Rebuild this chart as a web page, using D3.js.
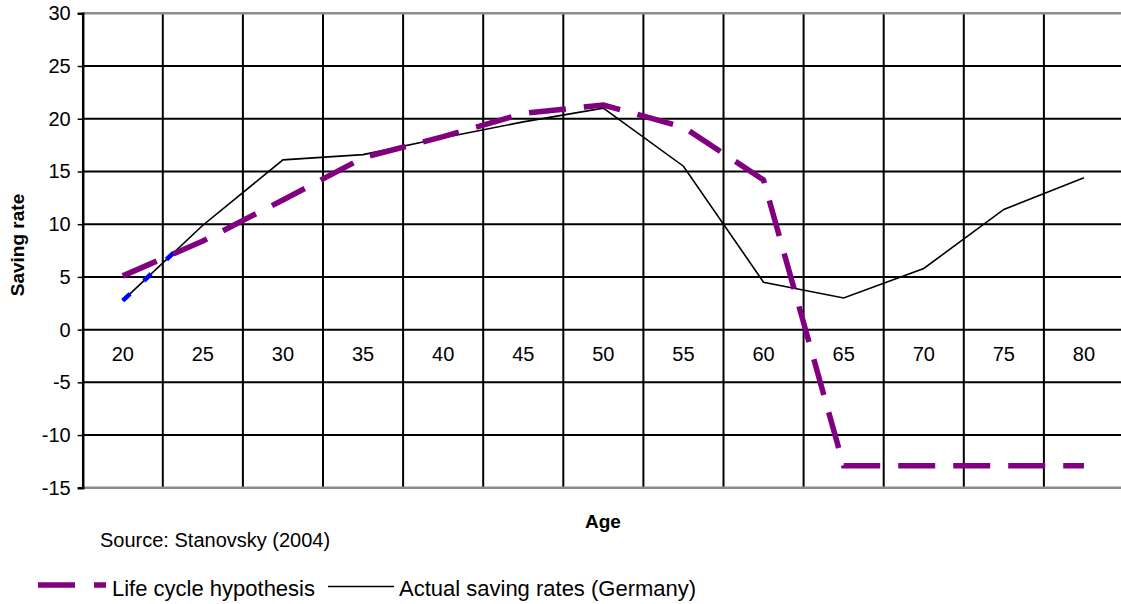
<!DOCTYPE html>
<html>
<head>
<meta charset="utf-8">
<script src="https://cdn.jsdelivr.net/npm/d3@7"></script>
<style>
  html, body { margin: 0; padding: 0; background: #fff; }
  svg { display: block; font-family: "Liberation Sans", Arial, sans-serif; }
</style>
</head>
<body>
<svg id="chart" width="1121" height="604"></svg>
<script>
// ---- data ----
const ages = ["20","25","30","35","40","45","50","55","60","65","70","75","80"];
const lifeCycle = [5.1, 8.4, 12.3, 16.3, 18.3, 20.5, 21.3, 19.2, 14.2, -12.9, -12.9, -12.9, -12.9];
const actualGermany = [2.75, 9.9, 16.1, 16.6, 18.2, 19.7, 21.0, 15.5, 4.5, 3.0, 5.8, 11.4, 14.4];
const yTickValues = [-15, -10, -5, 0, 5, 10, 15, 20, 25, 30];
const seriesNames = ["Life cycle hypothesis", "Actual saving rates (Germany)"];

(function () {
// ---- layout ----
const W = 1121;
const plotLeft = 82.7, plotTop = 13.3, plotBottom = 487.8;
const band = 80.1;
const svg = d3.select("#chart");

const x = d3.scaleBand().domain(ages).range([plotLeft, plotLeft + band * ages.length]).paddingInner(0).paddingOuter(0);
const y = d3.scaleLinear().domain([-15, 30]).range([plotBottom, plotTop]);
const xc = d => x(d) + x.bandwidth() / 2;

// horizontal gridlines (black) excluding top/bottom borders
const g = svg.append("g");
g.selectAll("line.hg").data(yTickValues.filter(v => v !== 30 && v !== -15)).enter()
  .append("line").attr("class", "hg")
  .attr("x1", plotLeft).attr("x2", W)
  .attr("y1", d => y(d)).attr("y2", d => y(d))
  .attr("stroke", "#000").attr("stroke-width", 2);

// vertical gridlines at category boundaries
g.selectAll("line.vg").data(ages.slice(1)).enter()
  .append("line").attr("class", "vg")
  .attr("x1", d => x(d)).attr("x2", d => x(d))
  .attr("y1", plotTop).attr("y2", plotBottom)
  .attr("stroke", "#000").attr("stroke-width", 2);

// top & bottom borders (grey)
g.selectAll("line.border").data([30, -15]).enter()
  .append("line").attr("class", "border")
  .attr("x1", plotLeft).attr("x2", W)
  .attr("y1", d => y(d)).attr("y2", d => y(d))
  .attr("stroke", "#8c8c8c").attr("stroke-width", 2.6);

// left y axis using d3 axis
const yAxis = d3.axisLeft(y).tickValues(yTickValues).tickSize(5).tickPadding(7).tickFormat(d3.format("d"));
const ya = svg.append("g").attr("transform", `translate(${plotLeft},0)`).call(yAxis);
ya.select(".domain").attr("stroke", "#000").attr("stroke-width", 2.5);
ya.selectAll(".tick line").attr("stroke", "#000").attr("stroke-width", 1.5);
ya.selectAll(".tick text").attr("font-size", 20).attr("fill", "#000")
  .attr("font-family", "'Liberation Sans', Arial, sans-serif")
  .text(d => d < 0 ? "-" + Math.abs(d) : d);

// category axis at y=0 (labels below)
const xAxis = d3.axisBottom(x).tickSize(0).tickPadding(17);
const xa = svg.append("g").attr("transform", `translate(0,${y(0)})`).call(xAxis);
xa.select(".domain").remove();
xa.selectAll(".tick text").attr("font-size", 20).attr("fill", "#000")
  .attr("font-family", "'Liberation Sans', Arial, sans-serif");

// lines
const lineGen = d3.line().x((d, i) => xc(ages[i])).y(d => y(d));

svg.append("path").datum(actualGermany)
  .attr("d", lineGen).attr("fill", "none")
  .attr("stroke", "#000").attr("stroke-width", 1.6).attr("stroke-linejoin", "miter");

// blue dashed overlay on first segment of actual series
svg.append("path").datum(actualGermany.slice(0, 2))
  .attr("d", lineGen).attr("fill", "none")
  .attr("stroke", "#0000ff").attr("stroke-width", 4.5)
  .attr("stroke-dasharray", "10,19,10,21,10,1000");

svg.append("path").datum(lifeCycle)
  .attr("d", lineGen).attr("fill", "none")
  .attr("stroke", "#800080").attr("stroke-width", 5.5)
  .attr("stroke-dasharray", "37,18").attr("stroke-linejoin", "miter");

// axis titles
svg.append("text").attr("x", 603).attr("y", 528).attr("text-anchor", "middle")
  .attr("font-size", 19).attr("font-weight", "bold").text("Age");
svg.append("text").attr("transform", "translate(24,245) rotate(-90)").attr("text-anchor", "middle")
  .attr("font-size", 19).attr("font-weight", "bold").text("Saving rate");

// source
svg.append("text").attr("x", 100).attr("y", 546.5).attr("font-size", 20).text("Source: Stanovsky (2004)");

// legend
const lg = svg.append("g");
lg.append("line").attr("x1", 38).attr("x2", 106).attr("y1", 585).attr("y2", 585)
  .attr("stroke", "#800080").attr("stroke-width", 5.5).attr("stroke-dasharray", "37,19");
lg.append("text").attr("x", 112).attr("y", 596).attr("font-size", 22).text(seriesNames[0]);
lg.append("line").attr("x1", 328).attr("x2", 394).attr("y1", 586.5).attr("y2", 586.5)
  .attr("stroke", "#000").attr("stroke-width", 1.6);
lg.append("text").attr("x", 399).attr("y", 596).attr("font-size", 22).text(seriesNames[1]);
})();
</script>
</body>
</html>
